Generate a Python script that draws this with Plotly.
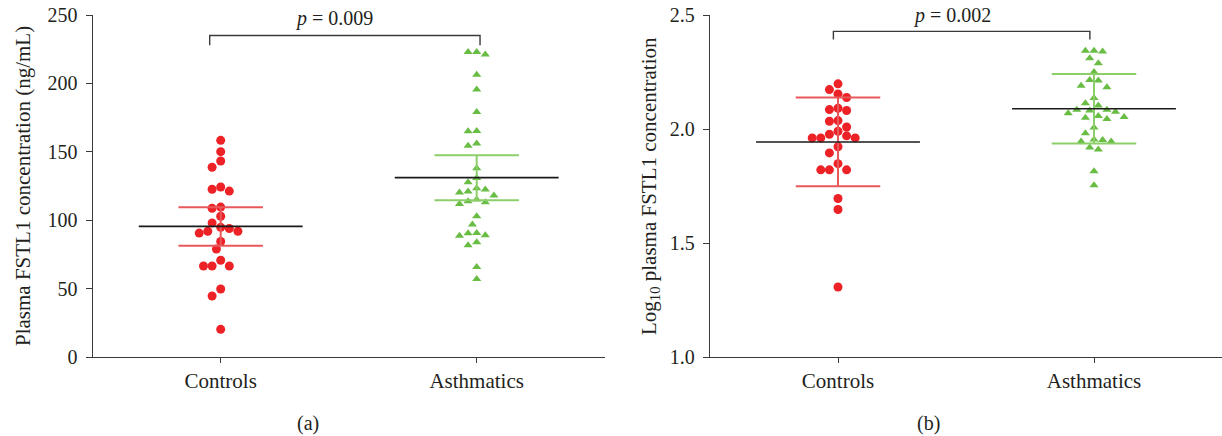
import plotly.graph_objects as go

categories = ["Controls", "Asthmatics"]

# Panel (a): plasma FSTL1 concentration (ng/mL)
a_controls = [158.4, 150.1, 143.3, 138.7, 122.6, 121.3, 124.3, 108.7, 109.6, 102.9,
              98.0, 94.8, 91.9, 90.6, 91.9, 93.9, 84.4, 78.9, 70.7, 66.5,
              66.5, 66.5, 49.7, 44.6, 20.2]
a_asthmatics = [223.0, 221.1, 223.0, 206.4, 195.5, 179.1, 165.0, 165.2, 156.0, 154.5,
                137.9, 130.9, 127.7, 123.3, 120.9, 122.4, 118.0, 120.2, 115.1, 113.1,
                111.8, 113.8, 102.9, 96.8, 90.6, 88.7, 89.0, 90.4, 81.7, 83.8,
                65.8, 57.0]
a_mean = [95.5, 131.1]
a_bar_low = [81.4, 114.5]
a_bar_high = [109.4, 147.4]
a_yticks = [0, 50, 100, 150, 200, 250]

# Panel (b): log10 plasma FSTL1 concentration
b_controls = [2.198, 2.173, 2.154, 2.138, 2.085, 2.081, 2.091, 2.037, 2.034, 2.009,
              1.990, 1.970, 1.961, 1.961, 1.961, 1.977, 1.922, 1.895, 1.848, 1.821,
              1.821, 1.821, 1.695, 1.647, 1.307]
b_asthmatics = [2.343, 2.340, 2.343, 2.288, 2.310, 2.250, 2.213, 2.215, 2.183, 2.190,
                2.136, 2.113, 2.103, 2.081, 2.069, 2.084, 2.076, 2.084, 2.053, 2.049,
                2.044, 2.057, 2.007, 1.981, 1.945, 1.954, 1.952, 1.945, 1.910, 1.919,
                1.815, 1.753]
b_mean = [1.943, 2.089]
b_bar_low = [1.749, 1.936]
b_bar_high = [2.138, 2.241]
b_yticks = [1.0, 1.5, 2.0, 2.5]
b_ytick_text = ["1.0", "1.5", "2.0", "2.5"]

p_values = ["0.009", "0.002"]
panel_labels = ["(a)", "(b)"]

FONT = "Liberation Serif, Times New Roman, serif"
TXT = "#231f20"
RED = "#ec2227"
RED_BAR = "#e8585b"
GREEN = "#69bd45"
GREEN_BAR = "#8ccf6a"

W, H = 1222, 436
PLOT_TOP, PLOT_H = 15, 342
PX_X = 256.0           # pixels per category unit
PX_Y_A = PLOT_H / 250  # pixels per ng/mL
PX_Y_B = PLOT_H / 1.5  # pixels per log unit


def swarm(values, ppu_y, d=8.4, step=4.3):
    """Simple beeswarm: returns horizontal offsets (category units)."""
    order = sorted(range(len(values)), key=lambda i: -values[i])
    cands = [0]
    for n in range(1, 30):
        cands += [-n, n]
    placed = []
    offs = [0.0] * len(values)
    for i in order:
        y = values[i] * ppu_y
        for c in cands:
            x = c * step
            if all((x - px) ** 2 + (y - py) ** 2 >= d * d for px, py in placed):
                placed.append((x, y))
                offs[i] = x / PX_X
                break
    return offs


fig = go.Figure()


def add_group(xa, ya, pos, vals, ppu, color, symbol, barcolor, mean, lo, hi):
    offs = swarm(vals, ppu)
    fig.add_trace(go.Scatter(
        x=[pos + o for o in offs], y=vals, mode="markers", xaxis=xa, yaxis=ya,
        marker=dict(color=color, size=9 if symbol == "circle" else 8,
                    symbol=symbol, line=dict(width=0)),
        showlegend=False, hoverinfo="y"))
    w = 0.165
    fig.add_trace(go.Scatter(
        x=[pos - w, pos + w, None, pos, pos, None, pos - w, pos + w],
        y=[hi, hi, None, lo, hi, None, lo, lo],
        mode="lines", xaxis=xa, yaxis=ya, line=dict(color=barcolor, width=2),
        showlegend=False, hoverinfo="skip"))
    m = 0.32
    fig.add_trace(go.Scatter(
        x=[pos - m, pos + m], y=[mean, mean], mode="lines", xaxis=xa, yaxis=ya,
        line=dict(color="#1a1a1a", width=1.6), showlegend=False, hoverinfo="skip"))


add_group("x", "y", 0, a_controls, PX_Y_A, RED, "circle", RED_BAR,
          a_mean[0], a_bar_low[0], a_bar_high[0])
add_group("x", "y", 1, a_asthmatics, PX_Y_A, GREEN, "triangle-up", GREEN_BAR,
          a_mean[1], a_bar_low[1], a_bar_high[1])
add_group("x2", "y2", 0, b_controls, PX_Y_B, RED, "circle", RED_BAR,
          b_mean[0], b_bar_low[0], b_bar_high[0])
add_group("x2", "y2", 1, b_asthmatics, PX_Y_B, GREEN, "triangle-up", GREEN_BAR,
          b_mean[1], b_bar_low[1], b_bar_high[1])

line_style = dict(showline=True, linecolor="#3a3a3a", linewidth=1.3,
                  ticks="outside", tickcolor="#3a3a3a", tickwidth=1.3,
                  showgrid=False, zeroline=False, ticklabeloverflow="allow")
ytick_font = dict(family=FONT, size=20, color=TXT)
xtick_font = dict(family=FONT, size=21, color=TXT)

fig.update_layout(
    width=W, height=H,
    margin=dict(l=0, r=0, t=PLOT_TOP, b=H - PLOT_TOP - PLOT_H, pad=0),
    paper_bgcolor="white", plot_bgcolor="white",
    font=dict(family=FONT, size=20, color=TXT),
    xaxis=dict(domain=[92.7 / W, 604.7 / W], range=[-0.5, 1.5], anchor="y",
               tickvals=[0, 1], ticktext=categories, ticklen=5, tickfont=xtick_font,
               **line_style),
    yaxis=dict(range=[0, 250], tickvals=a_yticks, anchor="x", ticklen=6,
               ticklabelstandoff=4, tickfont=ytick_font, **line_style),
    xaxis2=dict(domain=[710 / W, 1.0], range=[-0.5, 1.5], anchor="y2",
                tickvals=[0, 1], ticktext=categories, ticklen=5, tickfont=xtick_font,
                **line_style),
    yaxis2=dict(range=[1.0, 2.5], tickvals=b_yticks, ticktext=b_ytick_text, anchor="x2",
                ticklen=6, ticklabelstandoff=4, tickfont=ytick_font, **line_style),
)

# significance brackets
brackets = [("x", "y", -0.043, 1.013, 235.0, 227.8),
            ("x2", "y2", -0.018, 0.984, 2.428, 2.392)]
for xr, yr, x0, x1, ytop, ybot in brackets:
    fig.add_shape(type="path", xref=xr, yref=yr,
                  path=f"M {x0},{ybot} L {x0},{ytop} L {x1},{ytop} L {x1},{ybot}",
                  line=dict(color="#3a3a3a", width=1.4))


def paper_y(ref_px):
    return (PLOT_TOP + PLOT_H - ref_px) / PLOT_H


fig.add_annotation(x=0.443, y=paper_y(18), xref="x", yref="paper", showarrow=False,
                   xanchor="center", yanchor="middle",
                   text=f"<i>p</i> = {p_values[0]}", font=dict(family=FONT, size=20, color=TXT))
fig.add_annotation(x=0.446, y=paper_y(15), xref="x2", yref="paper", showarrow=False,
                   xanchor="center", yanchor="middle",
                   text=f"<i>p</i> = {p_values[1]}", font=dict(family=FONT, size=20, color=TXT))

# axis titles
fig.add_annotation(x=23 / W, y=0.5, xref="paper", yref="paper", showarrow=False,
                   xanchor="center", yanchor="middle",
                   textangle=-90, text="Plasma FSTL1 concentration (ng/mL)",
                   font=dict(family=FONT, size=21, color=TXT))
fig.add_annotation(x=650 / W, y=0.5, xref="paper", yref="paper", showarrow=False,
                   xanchor="center", yanchor="middle",
                   textangle=-90, text="Log<sub>10</sub> plasma FSTL1 concentration",
                   font=dict(family=FONT, size=21, color=TXT))

# panel labels
fig.add_annotation(x=308 / W, y=paper_y(423), xref="paper", yref="paper", showarrow=False,
                   xanchor="center", yanchor="middle",
                   text=panel_labels[0], font=dict(family=FONT, size=20, color=TXT))
fig.add_annotation(x=928 / W, y=paper_y(423), xref="paper", yref="paper", showarrow=False,
                   xanchor="center", yanchor="middle",
                   text=panel_labels[1], font=dict(family=FONT, size=20, color=TXT))

fig.write_html("out.html", config={"displayModeBar": False},
               post_script="document.body.style.margin='0';")
